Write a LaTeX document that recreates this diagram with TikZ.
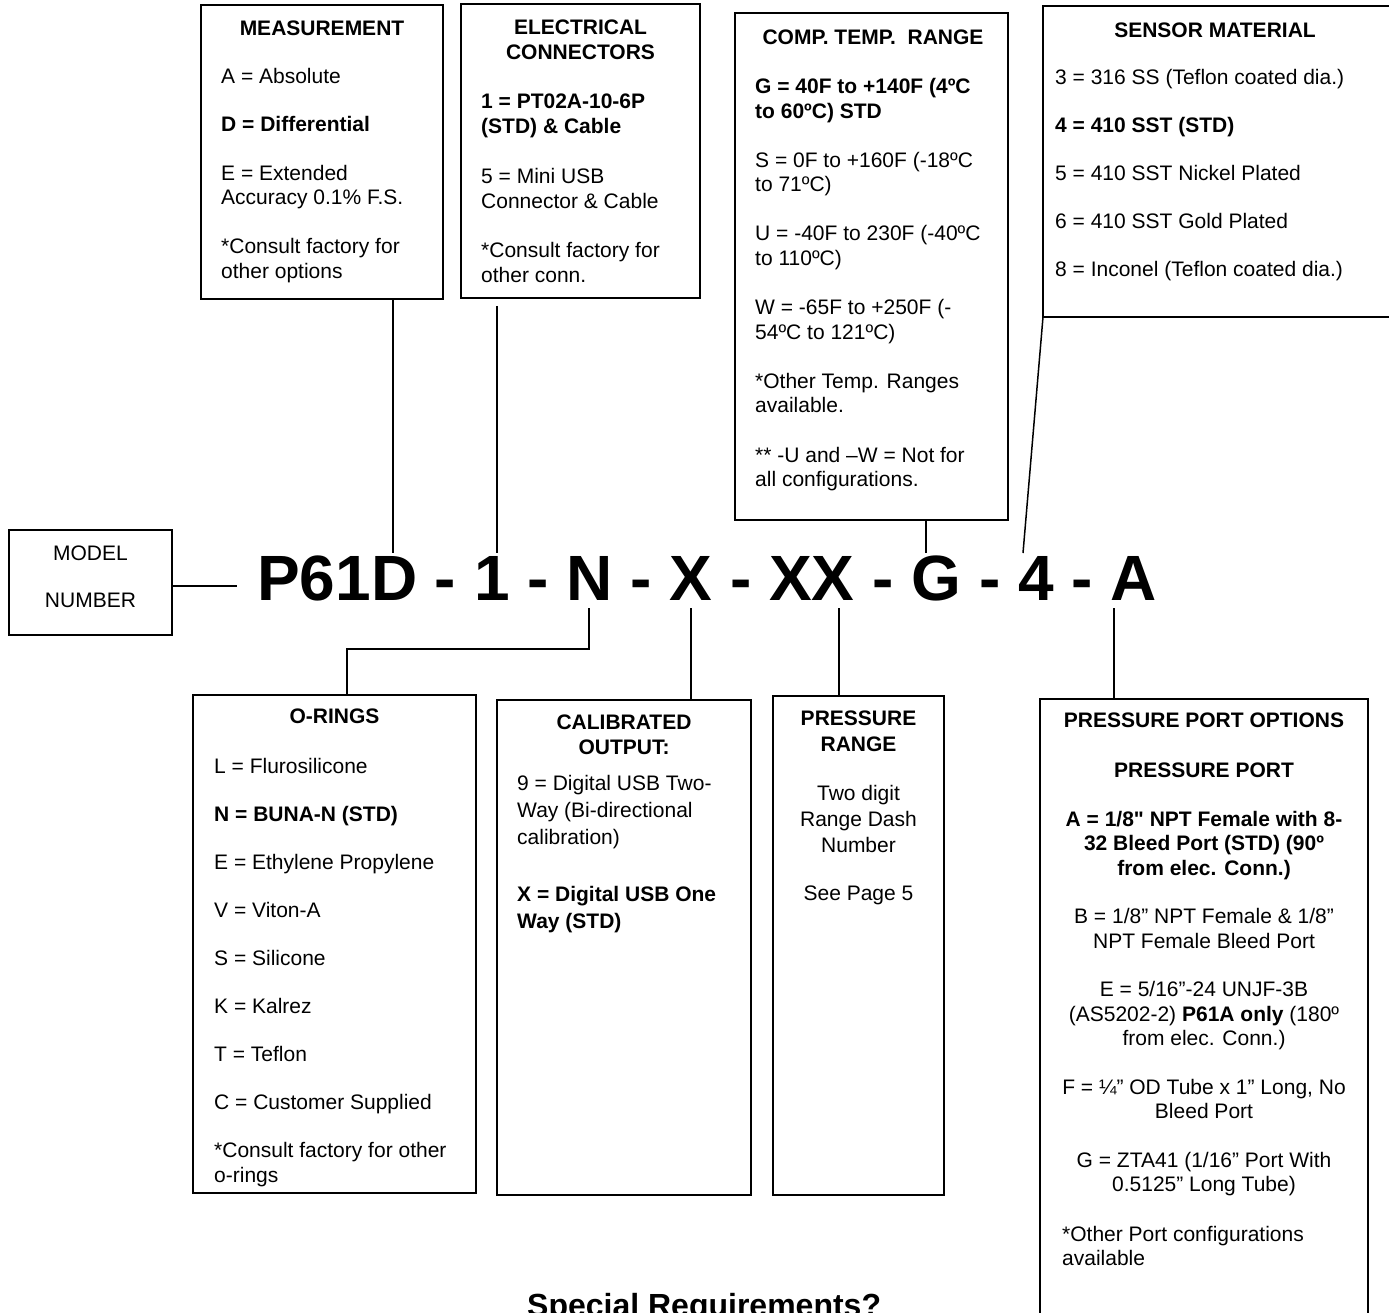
\documentclass[tikz,border=0pt]{standalone}
\usepackage{fontspec}
\setmainfont{Liberation Sans}[Ligatures=TeXOff]
\begin{document}
\begin{tikzpicture}[x=1pt,y=-1pt,
  box/.style={draw, line width=1.5pt, inner sep=0pt, outer sep=0pt, anchor=north west},
  conn/.style={draw, line width=1.5pt},
  txt/.style={inner sep=0pt, font=\fontsize{21}{24.5}\selectfont, align=left, anchor=base west},
  ctxt/.style={inner sep=0pt, font=\fontsize{21}{24.5}\selectfont, align=center, anchor=base},
  ttl/.style={inner sep=0pt, font=\fontsize{21}{25}\selectfont\bfseries, align=center, anchor=base},
]
\useasboundingbox (0,0) rectangle (1389,1313);
\clip (0,0) rectangle (1389,1313);

% ---------- boxes ----------
\node[box, minimum width=242, minimum height=294] (meas)   at (201,5) {};
\node[box, minimum width=239, minimum height=294] (elec)   at (461,4) {};
\node[box, minimum width=273, minimum height=507] (comp)   at (735,13) {};
\node[box, minimum width=360, minimum height=311] (sens)   at (1043,6) {};
\node[box, minimum width=163, minimum height=105] (model)  at (9,530) {};
\node[box, minimum width=283, minimum height=498] (orings) at (193,695) {};
\node[box, minimum width=254, minimum height=495] (calib)  at (497,700) {};
\node[box, minimum width=171, minimum height=499] (prange) at (773,696) {};
\node[box, minimum width=328, minimum height=700] (pport)  at (1040,699) {};

% ---------- model number ----------
\node[inner sep=0pt, anchor=base west, font=\bfseries\fontsize{64}{70}\selectfont] (code) at (257,600)
  {P61D - 1 - N - X - XX - G - 4 - A};
\node[ctxt] (modeltxt) at (90.5,607.5) {MODEL\\[22.5pt]NUMBER};

% ---------- texts (multi-line nodes are placed by the baseline of their last line) ----------
\node[ttl] (measT) at (322,35.5) {MEASUREMENT};
\node[txt] (measB) at (221,278.5) {A = Absolute\\[24pt]
\textbf{D = Differential}\\[24pt]
E = Extended\\Accuracy 0.1\% F.S.\\[24.5pt]
*Consult factory for\\other options};

\node[ttl] (elecT) at (580.5,59.5) {ELECTRICAL\\CONNECTORS};
\node[txt, font=\fontsize{21}{25}\selectfont] (elecB) at (481,282.5) {\textbf{1 = PT02A-10-6P}\\\textbf{(STD) \& Cable}\\[25pt]
5 = Mini USB\\Connector \& Cable\\[24pt]
*Consult factory for\\other conn.};

\node[ttl] (compT) at (873,44.5) {COMP. TEMP.\ \ RANGE};
\node[txt] (compB) at (755,486.5) {\textbf{G = 40F to +140F (4ºC}\\\textbf{to 60ºC) STD}\\[24.7pt]
S = 0F to +160F (-18ºC\\to 71ºC)\\[24.7pt]
U = -40F to 230F (-40ºC\\to 110ºC)\\[24.7pt]
W = -65F to +250F (-\\54ºC to 121ºC)\\[24.7pt]
*Other Temp. Ranges\\available.\\[24.7pt]
** -U and –W = Not for\\all configurations.};

\node[ttl] (sensT) at (1215,37.5) {SENSOR MATERIAL};
\node[txt] (sensB) at (1055,276.5) {3 = 316 SS (Teflon coated dia.)\\[23.5pt]
\textbf{4 = 410 SST (STD)}\\[23.5pt]
5 = 410 SST Nickel Plated\\[23.5pt]
6 = 410 SST Gold Plated\\[23.5pt]
8 = Inconel (Teflon coated dia.)};

\node[ttl] (oringsT) at (334.5,723.5) {O-RINGS};
\node[txt] (oringsB) at (214,1182) {L = Flurosilicone\\[23.5pt]
\textbf{N = BUNA-N (STD)}\\[23.5pt]
E = Ethylene Propylene\\[23.5pt]
V = Viton-A\\[23.5pt]
S = Silicone\\[23.5pt]
K = Kalrez\\[23.5pt]
T = Teflon\\[23.5pt]
C = Customer Supplied\\[23.5pt]
*Consult factory for other\\o-rings};

\node[ttl] (calibT) at (624,754.5) {CALIBRATED\\OUTPUT:};
\node[txt, font=\fontsize{21}{27}\selectfont] (calibB) at (517,928) {9 = Digital USB Two-\\Way (Bi-directional\\calibration)\\[29.5pt]
\textbf{X = Digital USB One}\\\textbf{Way (STD)}};

\node[ttl, font=\fontsize{21}{26}\selectfont\bfseries] (prangeT) at (858.5,751.5) {PRESSURE\\RANGE};
\node[ctxt, font=\fontsize{21}{26.3}\selectfont] (prangeB) at (858.5,900) {Two digit\\Range Dash\\Number\\[21pt]See Page 5};

\node[ttl] (pportT) at (1204,727.5) {PRESSURE PORT OPTIONS};
\node[ctxt] (pportB) at (1204,1191.5) {\textbf{PRESSURE PORT}\\[24pt]
\textbf{A = 1/8" NPT Female with 8-}\\\textbf{32 Bleed Port (STD) (90º}\\\textbf{from elec. Conn.)}\\[24pt]
B = 1/8” NPT Female \& 1/8”\\NPT Female Bleed Port\\[24pt]
E = 5/16”-24 UNJF-3B\\(AS5202-2) \textbf{P61A only} (180º\\from elec. Conn.)\\[24pt]
F = ¼” OD Tube x 1” Long, No\\Bleed Port\\[24pt]
G = ZTA41 (1/16” Port With\\0.5125” Long Tube)};
\node[txt] (pportO) at (1062,1265.5) {*Other Port configurations\\available};

\node[inner sep=0pt, anchor=base west, font=\bfseries\fontsize{32}{36}\selectfont] (special) at (527,1316) {Special Requirements?};

% ---------- connector end points ----------
\coordinate (tD) at (393,553);
\coordinate (t1) at (497,553);
\coordinate (tG) at (926,553);
\coordinate (t4) at (1023,553);
\coordinate (mEnd) at (237,586);
\coordinate (bN) at (589,608);
\coordinate (elb) at (347,649);
\coordinate (bX) at (691,608);
\coordinate (bXX) at (839,608);
\coordinate (bA) at (1114,608);

% ---------- connectors ----------
\draw[conn] (meas.south -| tD) -- (tD);
\draw[conn, shorten <=8pt] (elec.south -| t1) -- (t1);
\draw[conn] (comp.south -| tG) -- (tG);
\draw[conn] (sens.south west) -- (t4);
\draw[conn] (model.east |- mEnd) -- (mEnd);
\draw[conn] (bN) |- (elb) -- (orings.north -| elb);
\draw[conn] (bX) -- (calib.north -| bX);
\draw[conn] (bXX) -- (prange.north -| bXX);
\draw[conn] (bA) -- (pport.north -| bA);
\end{tikzpicture}
\end{document}
